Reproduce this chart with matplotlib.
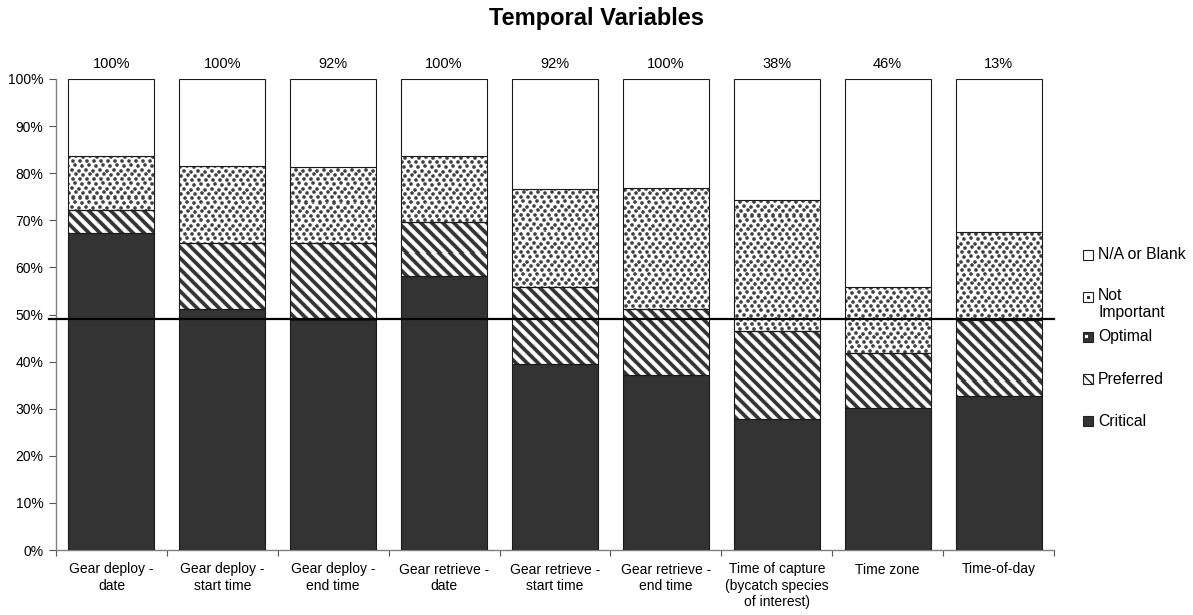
import numpy as np
import matplotlib
matplotlib.use('Agg')
import matplotlib.pyplot as plt
from matplotlib.patches import Rectangle

plt.rcParams['font.family'] = ['Liberation Sans', 'DejaVu Sans']

# ---------------- data ----------------
categories = ["Gear deploy -\ndate", "Gear deploy -\nstart time", "Gear deploy -\nend time",
              "Gear retrieve -\ndate", "Gear retrieve -\nstart time", "Gear retrieve -\nend time",
              "Time of capture\n(bycatch species\nof interest)", "Time zone", "Time-of-day"]
critical = [67.4, 51.2, 48.8, 58.1, 39.5, 37.2, 27.9, 30.2, 32.6]
preferred = [4.7, 14.0, 16.3, 11.6, 16.3, 14.0, 18.6, 11.6, 16.3]
optimal = [0, 0, 0, 0, 0, 0, 0, 0, 0]
not_important = [11.6, 16.3, 16.3, 14.0, 20.9, 25.6, 27.9, 14.0, 18.6]
na_blank = [16.3, 18.5, 18.6, 16.3, 23.3, 23.2, 25.6, 44.2, 32.5]
response_labels = ["100%", "100%", "92%", "100%", "92%", "100%", "38%", "46%", "13%"]
legend_labels = ["N/A or Blank", "Not\nImportant", "Optimal", "Preferred", "Critical"]
reference_line = 49
yticks = list(range(0, 101, 10))

# ---------------- figure ----------------
W_PX, H_PX, DPI = 1193, 615, 100
fig = plt.figure(figsize=(W_PX / DPI, H_PX / DPI), dpi=DPI)
ax_l, ax_r, ax_t, ax_b = 56, 1054, 79, 550
ax = fig.add_axes([ax_l / W_PX, 1 - ax_b / H_PX, (ax_r - ax_l) / W_PX, (ax_b - ax_t) / H_PX])
aw, ah = ax_r - ax_l, ax_b - ax_t

# textures (pixel-resolution fill patterns)
yy, xx = np.mgrid[0:ah, 0:aw]
P = 11.0
t = ((xx - yy + P / 2) % P) - P / 2
stripe_tex = 0.2 + 0.8 * np.clip((np.abs(t) - 1.8) / 1.6, 0, 1)

TH, TW = 18, 14
tile = np.ones((TH, TW))
for (px, py) in [(0, 0), (7, 1), (4, 4), (11, 5), (1, 9), (8, 9), (3, 13), (10, 14)]:
    for dy in range(4):
        for dx in range(4):
            inner = dx in (1, 2) and dy in (1, 2)
            edge_px = (dx in (0, 3)) and (dy in (0, 3))
            v = 0.25 if inner else (0.85 if edge_px else 0.45)
            tile[(py + dy) % TH, (px + dx) % TW] = min(tile[(py + dy) % TH, (px + dx) % TW], v)
dots_tex = np.tile(tile, (ah // TH + 2, aw // TW + 2))[:ah, :aw]

x = np.arange(len(categories))
width = 0.775
edge = '#1a1a1a'
lw = 0.8


def textured(vals, bottom, tex):
    bars = ax.bar(x, vals, width, bottom=bottom, facecolor='none', edgecolor=edge,
                  linewidth=lw, zorder=3)
    for p in bars.patches:
        im = ax.imshow(tex, cmap='gray', vmin=0, vmax=1, extent=(-0.5, 8.5, 0, 100),
                       origin='upper', aspect='auto', interpolation='nearest', zorder=2)
        im.set_clip_path(p)
    return bars


bottom = np.zeros(len(categories))
ax.bar(x, critical, width, bottom=bottom, color='#333333', edgecolor=edge, linewidth=lw, zorder=3)
bottom += np.array(critical)
textured(preferred, bottom, stripe_tex)
bottom += np.array(preferred)
ax.bar(x, optimal, width, bottom=bottom, color='#555555', edgecolor=edge, linewidth=lw, zorder=3)
bottom += np.array(optimal)
textured(not_important, bottom, dots_tex)
bottom += np.array(not_important)
ax.bar(x, na_blank, width, bottom=bottom, color='white', edgecolor=edge, linewidth=lw, zorder=3)

ax.set_xlim(-0.5, len(categories) - 0.5)
ax.set_ylim(0, 100)

ax.axhline(reference_line, xmin=-0.007, xmax=1.0, color='black', linewidth=1.6, zorder=5,
           clip_on=False)

# axes styling
for s in ['top', 'right']:
    ax.spines[s].set_visible(False)
for s in ['left', 'bottom']:
    ax.spines[s].set_color('#808080')
    ax.spines[s].set_linewidth(1.0)

ax.set_xticks(np.arange(-0.5, len(categories), 1))
ax.set_xticklabels([])
ax.set_xticks(x, minor=True)
ax.set_xticklabels(categories, minor=True, fontsize=10)
ax.tick_params(axis='x', which='major', length=4, direction='out', color='#555555')
ax.tick_params(axis='x', which='minor', length=0, pad=9)
ax.set_yticks(yticks)
ax.set_yticklabels([f"{v}%" for v in yticks], fontsize=10)
ax.tick_params(axis='y', length=5, direction='out', pad=4, color='#555555')

for i, lbl in enumerate(response_labels):
    ax.text(x[i], 103.1, lbl, ha='center', va='center', fontsize=10.5, clip_on=False)

fig.text(0.5, 1 - 19 / H_PX, "Temporal Variables", ha='center', va='center',
         fontsize=17, fontweight='bold')

# ---------------- legend (drawn manually) ----------------
leg_y = [255, 297, 337, 379, 421]
box_x, box_s, txt_x = 1083, 10, 1098
styles = [dict(facecolor='white'), dict(facecolor='white'), dict(facecolor='#333333'),
          dict(facecolor='white', hatch='\\\\\\\\'), dict(facecolor='#333333')]
for lbl, yc, st in zip(legend_labels, leg_y, styles):
    r = Rectangle((box_x / W_PX, 1 - (yc + box_s / 2) / H_PX), box_s / W_PX, box_s / H_PX,
                  transform=fig.transFigure, edgecolor='#222222', linewidth=0.8, **st)
    fig.add_artist(r)
    if lbl.startswith("Not"):
        fig.add_artist(Rectangle(((box_x + 4) / W_PX, 1 - (yc + 1.5) / H_PX), 3 / W_PX, 3 / H_PX,
                                 transform=fig.transFigure, facecolor='#333333', edgecolor='none'))
        fig.text(txt_x / W_PX, 1 - (yc - 9) / H_PX, lbl, ha='left', va='top', fontsize=11.3,
                 linespacing=1.15)
    else:
        if lbl == "Optimal":
            fig.add_artist(Rectangle(((box_x + 2) / W_PX, 1 - (yc + 1) / H_PX), 3 / W_PX, 3 / H_PX,
                                     transform=fig.transFigure, facecolor='white', edgecolor='none'))
        fig.text(txt_x / W_PX, 1 - yc / H_PX, lbl, ha='left', va='center', fontsize=11.3)

fig.savefig('out.png', dpi=DPI)
